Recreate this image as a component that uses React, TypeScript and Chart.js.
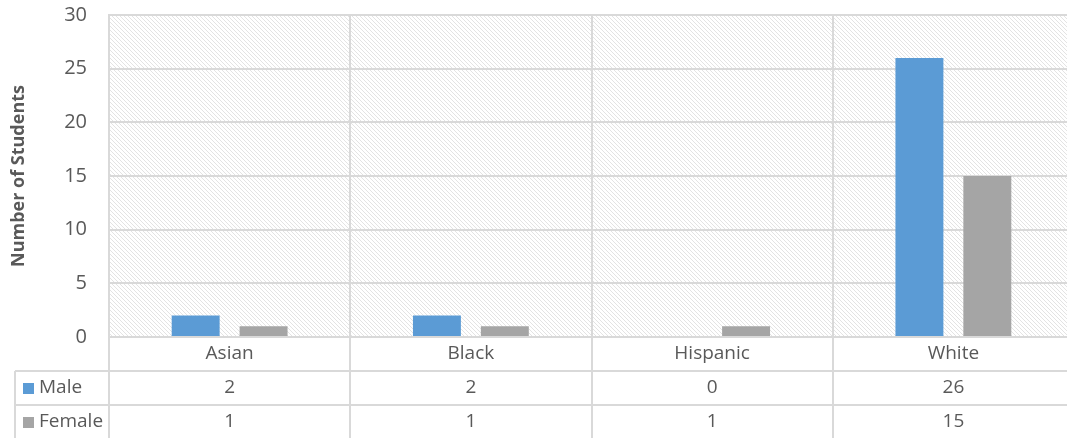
import React, { useEffect, useRef } from "react";
import { Chart, registerables } from "chart.js";

Chart.register(...registerables);

const categories = ["Asian", "Black", "Hispanic", "White"];
const maleValues = [2, 2, 0, 26];
const femaleValues = [1, 1, 1, 15];
const seriesNames = ["Male", "Female"];
const yTicks = [0, 5, 10, 15, 20, 25, 30];
const yTitle = "Number of Students";

const MALE_COLOR = "#5b9bd5";
const FEMALE_COLOR = "#a5a5a5";
const GRID = "#d9d9d9";
const TEXT = "#595959";
const FONT = "'Open Sans', 'Noto Sans', sans-serif";

function makePattern(ctx: CanvasRenderingContext2D) {
  const c = document.createElement("canvas");
  const P = 4;
  c.width = P;
  c.height = P;
  const pc = c.getContext("2d")!;
  pc.fillStyle = "#ffffff";
  pc.fillRect(0, 0, P, P);
  pc.fillStyle = "#e3e3e3";
  for (let i = 0; i < P; i++) pc.fillRect(i, i, 1, 1);
  return ctx.createPattern(c, "repeat");
}

const tablePlugin = {
  id: "tablePlugin",
  beforeDraw(chart: any) {
    const { ctx, chartArea } = chart;
    ctx.save();
    const pat = makePattern(ctx);
    if (pat) {
      ctx.fillStyle = pat;
      ctx.fillRect(chartArea.left, chartArea.top, chartArea.right - chartArea.left, chartArea.bottom - chartArea.top);
    }
    ctx.restore();
  },
  afterDraw(chart: any) {
    const { ctx, chartArea } = chart;
    const x = chart.scales.x;
    const n = categories.length;
    const catW = (chartArea.right - chartArea.left) / n;
    const top = chartArea.bottom;
    const rowH = 34;
    const r1 = top + rowH;
    const r2 = r1 + rowH;
    const bottom = chart.height;
    const leftCol = 15;
    ctx.save();
    ctx.strokeStyle = GRID;
    ctx.lineWidth = 2;
    ctx.beginPath();
    for (let i = 0; i <= n; i++) {
      const px = Math.round(x.getPixelForValue(i) - catW / 2);
      ctx.moveTo(px, top);
      ctx.lineTo(px, bottom);
    }
    ctx.moveTo(leftCol, r1);
    ctx.lineTo(leftCol, bottom);
    ctx.moveTo(leftCol, r1);
    ctx.lineTo(chart.width, r1);
    ctx.moveTo(leftCol, r2);
    ctx.lineTo(chart.width, r2);
    ctx.moveTo(chartArea.left, top);
    ctx.lineTo(chart.width, top);
    ctx.stroke();

    ctx.fillStyle = TEXT;
    ctx.font = `19px ${FONT}`;
    ctx.textAlign = "center";
    ctx.textBaseline = "middle";
    categories.forEach((c, i) => {
      const cx = x.getPixelForValue(i);
      ctx.fillText(c, cx, top + rowH / 2);
      ctx.fillText(String(maleValues[i]), cx, r1 + rowH / 2);
      ctx.fillText(String(femaleValues[i]), cx, r2 + rowH / 2);
    });
    ctx.textAlign = "left";
    [MALE_COLOR, FEMALE_COLOR].forEach((col, k) => {
      const cy = (k === 0 ? r1 : r2) + rowH / 2;
      ctx.fillStyle = col;
      ctx.fillRect(23, cy - 5, 11, 11);
      ctx.fillStyle = TEXT;
      ctx.fillText(seriesNames[k], 39, cy);
    });
    ctx.save();
    ctx.translate(19, (chartArea.top + chartArea.bottom) / 2);
    ctx.rotate(-Math.PI / 2);
    ctx.textAlign = "center";
    ctx.font = `bold 18px ${FONT}`;
    ctx.fillStyle = TEXT;
    ctx.fillText(yTitle, 0, 0);
    ctx.restore();
    ctx.restore();
  },
};

export default function App() {
  const ref = useRef<HTMLCanvasElement>(null);
  useEffect(() => {
    if (!ref.current) return;
    const chart = new Chart(ref.current, {
      type: "bar",
      data: {
        labels: categories,
        datasets: [
          { label: seriesNames[0], data: maleValues, backgroundColor: MALE_COLOR, categoryPercentage: 0.563, barPercentage: 0.706 },
          { label: seriesNames[1], data: femaleValues, backgroundColor: FEMALE_COLOR, categoryPercentage: 0.563, barPercentage: 0.706 },
        ],
      },
      options: {
        responsive: false,
        animation: false,
        layout: { padding: { top: 15, left: 0, right: 0, bottom: 0 } },
        plugins: { legend: { display: false }, tooltip: { enabled: false } },
        scales: {
          x: {
            offset: true,
            grid: { offset: true, color: GRID, lineWidth: 2, drawTicks: false },
            border: { display: false },
            ticks: { display: false },
            afterFit: (s: any) => { s.height = 101; s.paddingLeft = 0; s.paddingRight = 0; },
          },
          y: {
            min: 0,
            max: 30,
            afterBuildTicks: (s: any) => { s.ticks = yTicks.map((v) => ({ value: v })); },
            grid: { color: GRID, lineWidth: 2, drawTicks: false },
            border: { display: true, color: GRID, width: 2 },
            ticks: { color: TEXT, font: { size: 20, family: FONT }, padding: 22 },
            afterFit: (s: any) => { s.width = 109; s.paddingTop = 0; s.paddingBottom = 0; },
          },
        },
      },
      plugins: [tablePlugin],
    });
    return () => chart.destroy();
  }, []);
  return (
    <div style={{ position: "absolute", left: 0, top: 0, width: 1067, height: 438, overflow: "hidden", background: "#fff" }}>
      <canvas ref={ref} width={1074} height={438} style={{ display: "block" }} />
    </div>
  );
}
